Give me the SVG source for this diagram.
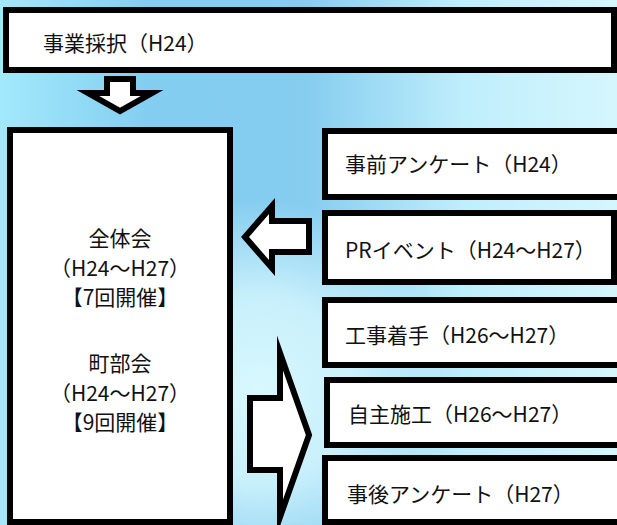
<svg xmlns="http://www.w3.org/2000/svg" width="617" height="525" viewBox="0 0 617 525">
<defs>
<linearGradient id="bg" x1="0" y1="0" x2="1" y2="0">
<stop offset="0" stop-color="#a3e9fc"/>
<stop offset="0.25" stop-color="#82cdf0"/>
<stop offset="0.5" stop-color="#86cdf0"/>
<stop offset="0.75" stop-color="#bfeefc"/>
<stop offset="1" stop-color="#d5f6fd"/>
</linearGradient>
<radialGradient id="glow" cx="260" cy="390" r="190" gradientUnits="userSpaceOnUse">
<stop offset="0" stop-color="#d8f8fe" stop-opacity="1"/>
<stop offset="0.5" stop-color="#d8f8fe" stop-opacity="0.8"/>
<stop offset="1" stop-color="#d8f8fe" stop-opacity="0"/>
</radialGradient>
<style>
.box{fill:#fff;stroke:#000;stroke-width:6}
.arr{fill:#fff;stroke:#000;stroke-width:6;stroke-linejoin:miter;stroke-miterlimit:10}
text{font-family:"Noto Sans CJK JP","Noto Sans",sans-serif;font-size:21px;fill:#111}
.c{text-anchor:middle}
</style>
</defs>
<rect width="617" height="525" fill="url(#bg)"/>
<rect width="617" height="525" fill="url(#glow)"/>
<g id="connectors">
<polygon class="arr" points="107,79 133,79 133,93 152,93 120,111 88,93 107,93"/>
<polygon class="arr" points="245,237 272,206 272,221 309,221 309,252 272,252 272,268"/>
<polygon class="arr" stroke-width="5" points="250,398 280,398 280,353 309,435 280,517 280,470 250,470"/>
</g>
<g id="n-saitaku">
<rect class="box" x="6" y="10" width="608" height="60"/>
<text x="43" y="51">事業採択（H24）</text>
</g>
<g id="n-kai">
<rect class="box" x="10" y="130" width="220" height="392"/>
<text class="c" x="120" y="246">全体会</text>
<text class="c" x="120" y="276">（H24～H27）</text>
<text class="c" x="120" y="305">【7回開催】</text>
<text class="c" x="120" y="371">町部会</text>
<text class="c" x="120" y="401">（H24～H27）</text>
<text class="c" x="120" y="430">【9回開催】</text>
</g>
<g id="n-jizen">
<rect class="box" x="325" y="131" width="300" height="66"/>
<text x="345" y="172">事前アンケート（H24）</text>
</g>
<g id="n-pr">
<rect class="box" x="325" y="213" width="289" height="69"/>
<text x="345" y="258">PRイベント（H24～H27）</text>
</g>
<g id="n-koji">
<rect class="box" x="325" y="300" width="300" height="65"/>
<text x="345" y="343">工事着手（H26～H27）</text>
</g>
<g id="n-jishu">
<rect class="box" x="327" y="380" width="300" height="65"/>
<text x="348" y="422">自主施工（H26～H27）</text>
</g>
<g id="n-jigo">
<rect class="box" x="325" y="458" width="300" height="64"/>
<text x="347" y="502">事後アンケート（H27）</text>
</g>
</svg>
